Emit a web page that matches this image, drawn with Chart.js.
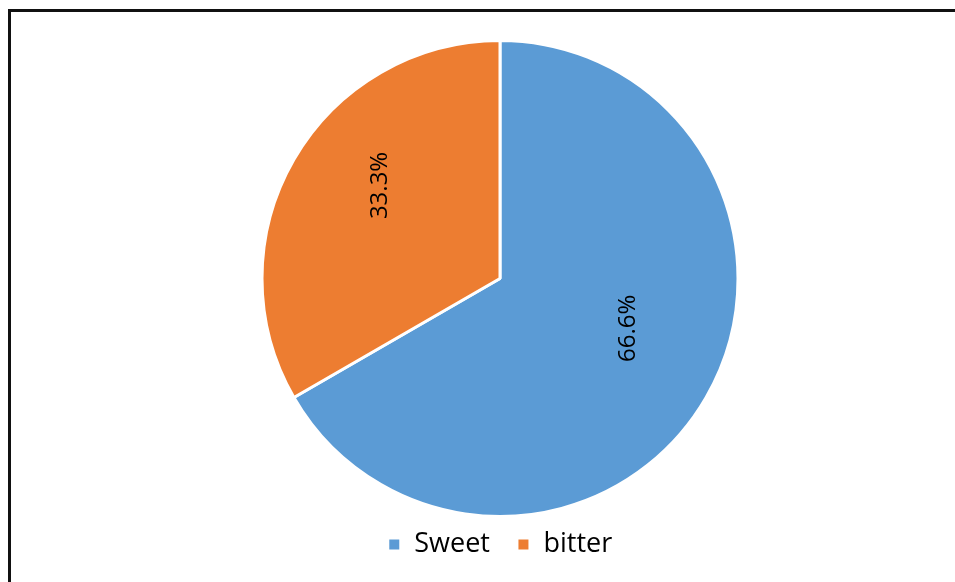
<!DOCTYPE html>
<html>
<head>
<meta charset="utf-8">
<script src="https://cdn.jsdelivr.net/npm/chart.js@4.4.0/dist/chart.umd.min.js"></script>
<style>
  html, body { margin: 0; padding: 0; background: #fff; overflow: hidden; }
  #frame { position: absolute; left: 8px; top: 9px; width: 1000px; height: 1000px;
           border-top: 3px solid #111; border-left: 3px solid #111; }
  #wrap { position: absolute; left: 0; top: 0; width: 955px; height: 582px; }
</style>
</head>
<body>
<div id="frame"></div>
<div id="wrap"><canvas id="pie"></canvas></div>
<script>
/* ---- data ---- */
var CATEGORIES = ['Sweet', 'bitter'];
var SHARES     = [66.6, 33.3];
var LABELS     = ['66.6%', '33.3%'];
var COLORS     = ['#5B9BD5', '#ED7D31'];

/* rotated value labels, placed from each arc's own geometry
   (anchored like the unrotated box, so they sit a bit higher) */
var rotatedLabels = {
    id: 'rotatedLabels',
    afterDatasetsDraw: function(chart) {
        var ctx  = chart.ctx;
        var meta = chart.getDatasetMeta(0);
        var size = 24;
        ctx.save();
        ctx.font = size + 'px "Open Sans"';
        ctx.fillStyle = '#000';
        ctx.textAlign = 'center';
        ctx.textBaseline = 'middle';
        meta.data.forEach(function(arc, i) {
            var mid = (arc.startAngle + arc.endAngle) / 2;
            var r   = arc.outerRadius * 0.6;
            var w   = ctx.measureText(LABELS[i]).width;
            var x   = arc.x + Math.cos(mid) * r + 4;
            var y   = arc.y + Math.sin(mid) * r - (w - size) / 2;
            ctx.save();
            ctx.translate(x, y);
            ctx.rotate(-Math.PI / 2);
            ctx.fillText(LABELS[i], 0, 0);
            ctx.restore();
        });
        ctx.restore();
    }
};

new Chart(document.getElementById('pie'), {
    type: 'pie',
    data: {
        labels: CATEGORIES,
        datasets: [{
            data: SHARES,
            backgroundColor: COLORS,
            borderColor: '#fff',
            borderWidth: 3
        }]
    },
    options: {
        responsive: true, maintainAspectRatio: false, animation: false,
        radius: 238,
        layout: { padding: { left: 45, top: 53, bottom: 14 } },
        plugins: {
            legend: {
                position: 'bottom',
                labels: {
                    color: '#000',
                    font: { family: '"Open Sans"', size: 27 },
                    boxWidth: 13, boxHeight: 13, padding: 27
                }
            },
            tooltip: { enabled: false }
        }
    },
    plugins: [rotatedLabels]
});
</script>
</body>
</html>
